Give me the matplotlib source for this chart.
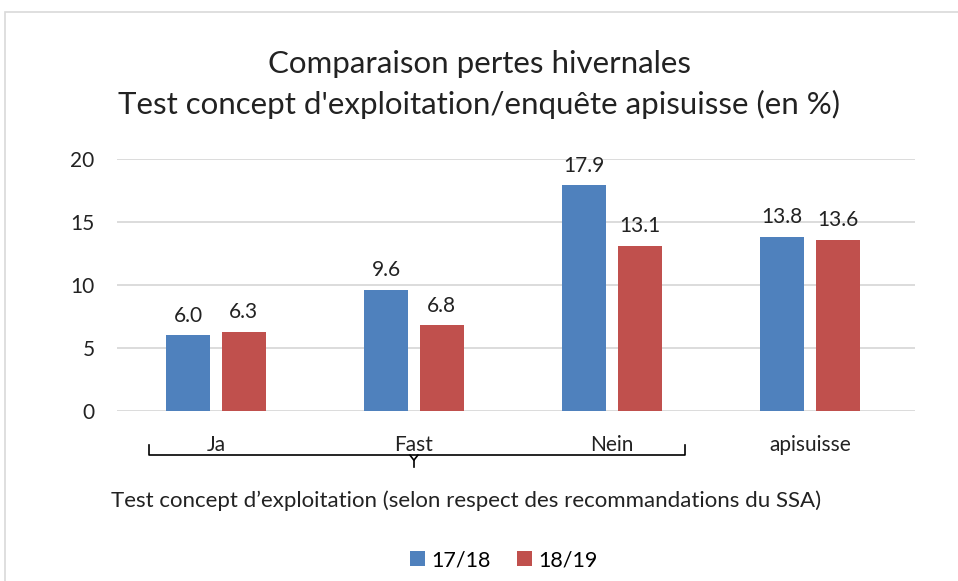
import matplotlib.pyplot as plt
import matplotlib.transforms as mtransforms
from matplotlib.patches import Rectangle
import numpy as np

plt.rcParams['font.family'] = ['Lato', 'DejaVu Sans']

# data
categories = ['Ja', 'Fast', 'Nein', 'apisuisse']
s1718 = [6.0, 9.6, 17.9, 13.8]
s1819 = [6.3, 6.8, 13.1, 13.6]
series_names = ['17/18', '18/19']
colors = ['#4F81BD', '#C0504D']

fig = plt.figure(figsize=(9.58, 5.81), dpi=100)
ax = fig.add_axes([0.122, 0.2926, 0.833, 0.434])

x = np.arange(len(categories))
w = 0.222
off = 0.141
b1 = ax.bar(x - off, s1718, w, color=colors[0], label=series_names[0])
b2 = ax.bar(x + off, s1819, w, color=colors[1], label=series_names[1])

for bars in (b1, b2):
    for r in bars:
        ax.annotate(f'{r.get_height():.1f}', (r.get_x() + r.get_width() / 2, r.get_height()),
                    xytext=(0, 7), textcoords='offset points', ha='center', va='bottom',
                    fontsize=15, color='#222222')

ax.set_xlim(-0.5, 3.53)
ax.set_ylim(0, 20)
ax.set_yticks([0, 5, 10, 15, 20])
ax.yaxis.grid(True, color='#d9d9d9', linewidth=1.3)
ax.set_axisbelow(True)
for s in ax.spines.values():
    s.set_visible(False)
ax.tick_params(length=0, labelsize=15, colors='#222222')
ax.tick_params(axis='y', pad=16)
ax.tick_params(axis='x', pad=17)
ax.set_xticks(x)
ax.set_xticklabels(categories)

# brace under the first three categories
trans = mtransforms.blended_transform_factory(ax.transData, ax.transAxes)
bx0, bx1, bc = -0.34, 2.37, 1.0
ax.plot([bx0, bx0, bx1, bx1], [-0.135, -0.175, -0.175, -0.135], transform=trans,
        color='black', lw=1.2, clip_on=False)
ax.plot([bc - 0.02, bc, bc + 0.02], [-0.175, -0.195, -0.175], transform=trans,
        color='black', lw=1.2, clip_on=False)
ax.plot([bc, bc], [-0.195, -0.222], transform=trans, color='black', lw=1.2, clip_on=False)

fig.text(0.487, 0.139, "Test concept d\u2019exploitation (selon respect des recommandations du SSA)",
         ha='center', va='center', fontsize=16, color='#222222')

fig.suptitle("Comparaison pertes hivernales\nTest concept d'exploitation/enqu\u00eate apisuisse (en %)",
             y=0.855, va='center', fontsize=22.5, color='#222222', linespacing=1.5)

fig.legend(loc='center', bbox_to_anchor=(0.526, 0.036), ncol=2, frameon=False,
           fontsize=15.5, handlelength=0.7, handleheight=0.7, columnspacing=1.2, handletextpad=0.3)

fig.patches.append(Rectangle((0.0052, -0.01), 1.0, 0.989, transform=fig.transFigure,
                             fill=False, edgecolor='#d9d9d9', linewidth=1.2))

fig.savefig('out.png', dpi=100)
